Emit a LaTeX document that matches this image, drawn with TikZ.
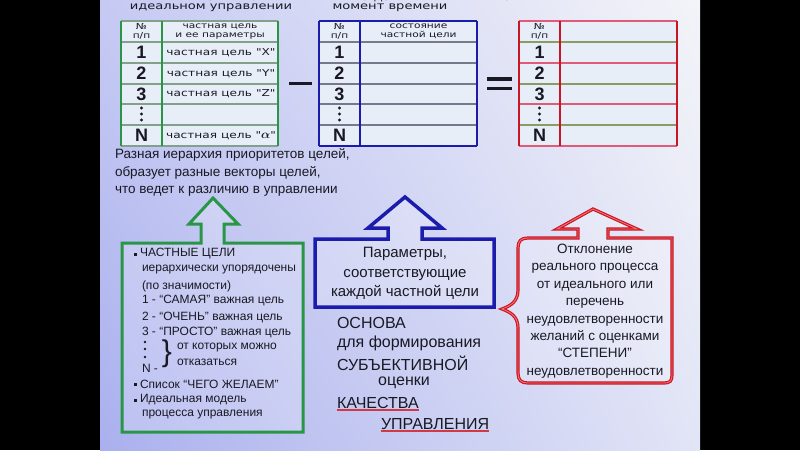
\documentclass[tikz,border=0pt]{standalone}
\usepackage{amsmath}
\usepackage{fontspec}
\setmainfont{Liberation Sans}
\newfontfamily\dvw[FakeStretch=1.28]{DejaVu Sans}
\usetikzlibrary{shadings}
\definecolor{bgUL}{RGB}{198,202,243}
\definecolor{bgLL}{RGB}{170,176,238}
\definecolor{bgUR}{RGB}{243,244,248}
\definecolor{bgLR}{RGB}{226,229,246}
\definecolor{cellbg}{RGB}{232,238,248}
\definecolor{gGreen}{RGB}{40,150,70}
\definecolor{gGreenH}{RGB}{130,160,140}
\definecolor{bBlue}{RGB}{28,28,172}
\definecolor{bGrey}{RGB}{120,120,140}
\definecolor{rRed}{RGB}{200,22,36}
\definecolor{rPink}{RGB}{225,90,120}
\definecolor{rOlive}{RGB}{140,155,100}
\definecolor{rLight}{RGB}{250,110,110}
\definecolor{ink}{RGB}{25,25,35}
\begin{document}
\begin{tikzpicture}[x=1pt,y=-1pt,
  txt/.style={inner sep=0pt,outer sep=0pt,text=ink},
  captxt/.style={txt,font=\dvw\fontsize{10.2}{12}\selectfont},
  hdrtxt/.style={txt,font=\dvw\fontsize{8.3}{9}\selectfont,align=center},
  celltxt/.style={txt,font=\dvw\fontsize{9.5}{11}\selectfont},
  numtxt/.style={txt,font=\fontsize{18}{18}\selectfont\bfseries},
  gtxt/.style={txt,font=\fontsize{12}{14}\selectfont,anchor=west},
  maintxt/.style={txt,font=\fontsize{13.5}{17.5}\selectfont,align=left,anchor=west},
  osntxt/.style={txt,font=\fontsize{16}{18}\selectfont,anchor=west},
  bluetxt/.style={txt,font=\fontsize{15}{19.5}\selectfont,align=center},
  redtxt/.style={txt,font=\fontsize{13.5}{17.4}\selectfont,align=center},
  t1v/.style={draw=gGreen,line width=2pt},
  t1h/.style={draw=gGreenH,line width=1.5pt},
  t2v/.style={draw=bBlue,line width=2pt},
  t2h/.style={draw=bGrey,line width=1.5pt},
  t3v/.style={draw=rRed,line width=2pt},
  gbox/.style={draw=gGreen,line width=3pt,fill=white,fill opacity=0.2,line join=miter},
  bbox/.style={draw=bBlue,line width=3.5pt,fill=white,fill opacity=0.2,line join=miter},
  rbox/.style={draw=rRed,line width=3.2pt,fill=white,fill opacity=0.2,line join=miter},
  rboxin/.style={draw=rLight,line width=0.9pt},
  uline/.style={draw=rRed!85,line width=1.6pt},
  sqbul/.style={fill=ink,inner sep=0pt,minimum size=3pt},
  dotmark/.style={fill=ink}
]
\useasboundingbox (0,0) rectangle (800,450);
\clip (0,0) rectangle (800,450);
\fill[black] (0,0) rectangle (800,450);
\shade[upper left=bgUL,upper right=bgUR,lower left=bgLL,lower right=bgLR] (100,0) rectangle (700,450);

% ---------- captions (partly cut at top) ----------
\node[captxt] (c1a) at (211,-3) {достигнутое при};
\node[captxt] (c1b) at (211,8) {идеальном управлении};
\node[captxt] (c2a) at (390,-3) {на данный};
\node[captxt] (c2b) at (390,8) {момент времени};
\node[captxt] (c3a) at (581,-3) {процесса от идеального};

% ---------- table 1 ----------
\fill[cellbg] (121,21) rectangle (278,146);
\foreach \y in {21,42,63,84,104,125,146} \draw[t1h] (121,\y) -- (278,\y);
\foreach \x in {121,162,278} \draw[t1v] (\x,21) -- (\x,146);
\node[hdrtxt] (t1a) at (141.5,31.5) {№\\п/п};
\node[hdrtxt] (t1b) at (220,31.5) {частная цель\\и ее параметры};
\node[numtxt] (t1n1) at (141.5,52.5) {1};
\node[numtxt] (t1n2) at (141.5,73.5) {2};
\node[numtxt] (t1n3) at (141.5,94) {3};
\foreach \y in {108,114,120} \fill[dotmark] (141.5,\y) circle (1.7);
\node[numtxt] (t1nN) at (141.5,135.5) {N};
\node[celltxt] (t1r1) at (221,52.5) {частная цель "X"};
\node[celltxt] (t1r2) at (221,73.5) {частная цель "Y"};
\node[celltxt] (t1r3) at (221,94) {частная цель "Z"};
\node[celltxt] (t1rN) at (221,135.5) {частная цель "{\fontsize{13}{13}\selectfont$\boldsymbol{\alpha}$}"};

% minus
\fill[ink] (289,81.5) rectangle (312,85);

% ---------- table 2 ----------
\fill[cellbg] (319,21) rectangle (477,146);
\foreach \y in {42,63,84,104,125} \draw[t2h] (319,\y) -- (477,\y);
\draw[t2v] (319,21) -- (477,21);
\draw[t2v] (319,146) -- (477,146);
\foreach \x in {319,360,477} \draw[t2v] (\x,21) -- (\x,146);
\node[hdrtxt] (t2a) at (339.5,31.5) {№\\п/п};
\node[hdrtxt] (t2b) at (418.5,31.5) {состояние\\частной цели};
\node[numtxt] (t2n1) at (339.5,52.5) {1};
\node[numtxt] (t2n2) at (339.5,73.5) {2};
\node[numtxt] (t2n3) at (339.5,94) {3};
\foreach \y in {108,114,120} \fill[dotmark] (339.5,\y) circle (1.7);
\node[numtxt] (t2nN) at (339.5,135.5) {N};

% equals
\fill[ink] (487,77) rectangle (512,80.5);
\fill[ink] (487,86.5) rectangle (512,90);

% ---------- table 3 ----------
\fill[cellbg] (519,21) rectangle (677,146);
\foreach \y/\c in {21/rPink,42/rOlive,63/rPink,84/rOlive,104/rPink,125/rOlive,146/rPink}
  \draw[draw=\c,line width=1.5pt] (519,\y) -- (677,\y);
\foreach \x in {519,560,677} \draw[t3v] (\x,21) -- (\x,146);
\node[hdrtxt] (t3a) at (539.5,31.5) {№\\п/п};
\node[numtxt] (t3n1) at (539.5,52.5) {1};
\node[numtxt] (t3n2) at (539.5,73.5) {2};
\node[numtxt] (t3n3) at (539.5,94) {3};
\foreach \y in {108,114,120} \fill[dotmark] (539.5,\y) circle (1.7);
\node[numtxt] (t3nN) at (539.5,135.5) {N};

% ---------- text under table 1 ----------
\node[maintxt] (razn) at (115,172.5) {Разная иерархия приоритетов целей,\\образует разные векторы целей,\\что ведет к различию в управлении};

% ---------- green box with arrow ----------
\draw[gbox] (201,243) -- (122,243) -- (122,432) -- (303,432) -- (303,243) -- (224,243)
  -- (224,224) -- (238,224) -- (213,198) -- (189,224) -- (201,224) -- cycle;
\node[sqbul] (b1) at (135.5,254) {};
\node[gtxt] (g1) at (140,254) {ЧАСТНЫЕ ЦЕЛИ};
\node[gtxt] (g2) at (142,270) {иерархически упорядочены};
\node[gtxt] (g3) at (142,286) {(по значимости)};
\node[gtxt] (g4) at (142,301) {1 - “САМАЯ” важная цель};
\node[gtxt] (g5) at (142,317) {2 - “ОЧЕНЬ” важная цель};
\node[gtxt] (g6) at (142,332) {3 - “ПРОСТО” важная цель};
\foreach \y in {342,349,357} \fill[dotmark] (145,\y) circle (1.3);
\node[gtxt] (g7) at (142,368) {N -};
\node[txt,font=\fontsize{30}{30}\selectfont] (gbr) at (167,354) {\}};
\node[gtxt] (g8) at (177,348) {от которых можно};
\node[gtxt] (g9) at (177,362) {отказаться};
\node[sqbul] (b2) at (135.5,384) {};
\node[gtxt] (g10) at (140,384) {Список “ЧЕГО ЖЕЛАЕМ”};
\node[sqbul] (b3) at (135.5,400) {};
\node[gtxt] (g11) at (140,400) {Идеальная модель};
\node[gtxt] (g12) at (142,415) {процесса управления};

% ---------- blue box with arrow ----------
\draw[bbox] (388,239) -- (315,239) -- (315,307) -- (494,307) -- (494,239) -- (422,239)
  -- (422,228) -- (442,228) -- (405,197) -- (368,228) -- (388,228) -- cycle;
\node[bluetxt] (btxt) at (405,273.5) {Параметры,\\соответствующие\\каждой частной цели};

% ---------- basis text ----------
\node[osntxt] (o1) at (337,323) {ОСНОВА};
\node[osntxt] (o2) at (337,343) {для формирования};
\node[osntxt] (o3) at (337,363) {СУБЪЕКТИВНОЙ};
\node[osntxt,anchor=center] (o4) at (404,383) {оценки};
\node[osntxt] (o5) at (337,403) {КАЧЕСТВА};
\node[osntxt] (o6) at (381,424) {УПРАВЛЕНИЯ};
\draw[uline] ([yshift=-1.5pt]o5.south west) -- ([yshift=-1.5pt]o5.south east);
\draw[uline] ([yshift=-1.5pt]o6.south west) -- ([yshift=-1.5pt]o6.south east);

% ---------- red box with arrow ----------
\def\redpath{(578,238) -- (528,238) .. controls (521,238) and (518,241) .. (518,248)
  -- (518,290) .. controls (518,302) and (510,306) .. (502,309)
  .. controls (510,312) and (518,316) .. (518,328)
  -- (518,373) .. controls (518,380) and (521,383) .. (528,383)
  -- (664,383) .. controls (670,383) and (672,381) .. (672,375)
  -- (672,238) -- (608,238) -- (608,229) -- (637,229) -- (593,209) -- (557,229) -- (578,229) -- cycle}
\draw[rbox] \redpath;
\draw[rboxin] \redpath;
\node[redtxt] (rtxt) at (595,311) {Отклонение\\реального процесса\\от идеального или\\перечень\\неудовлетворенности\\желаний с оценками\\“СТЕПЕНИ”\\неудовлетворенности};
\end{tikzpicture}
\end{document}
